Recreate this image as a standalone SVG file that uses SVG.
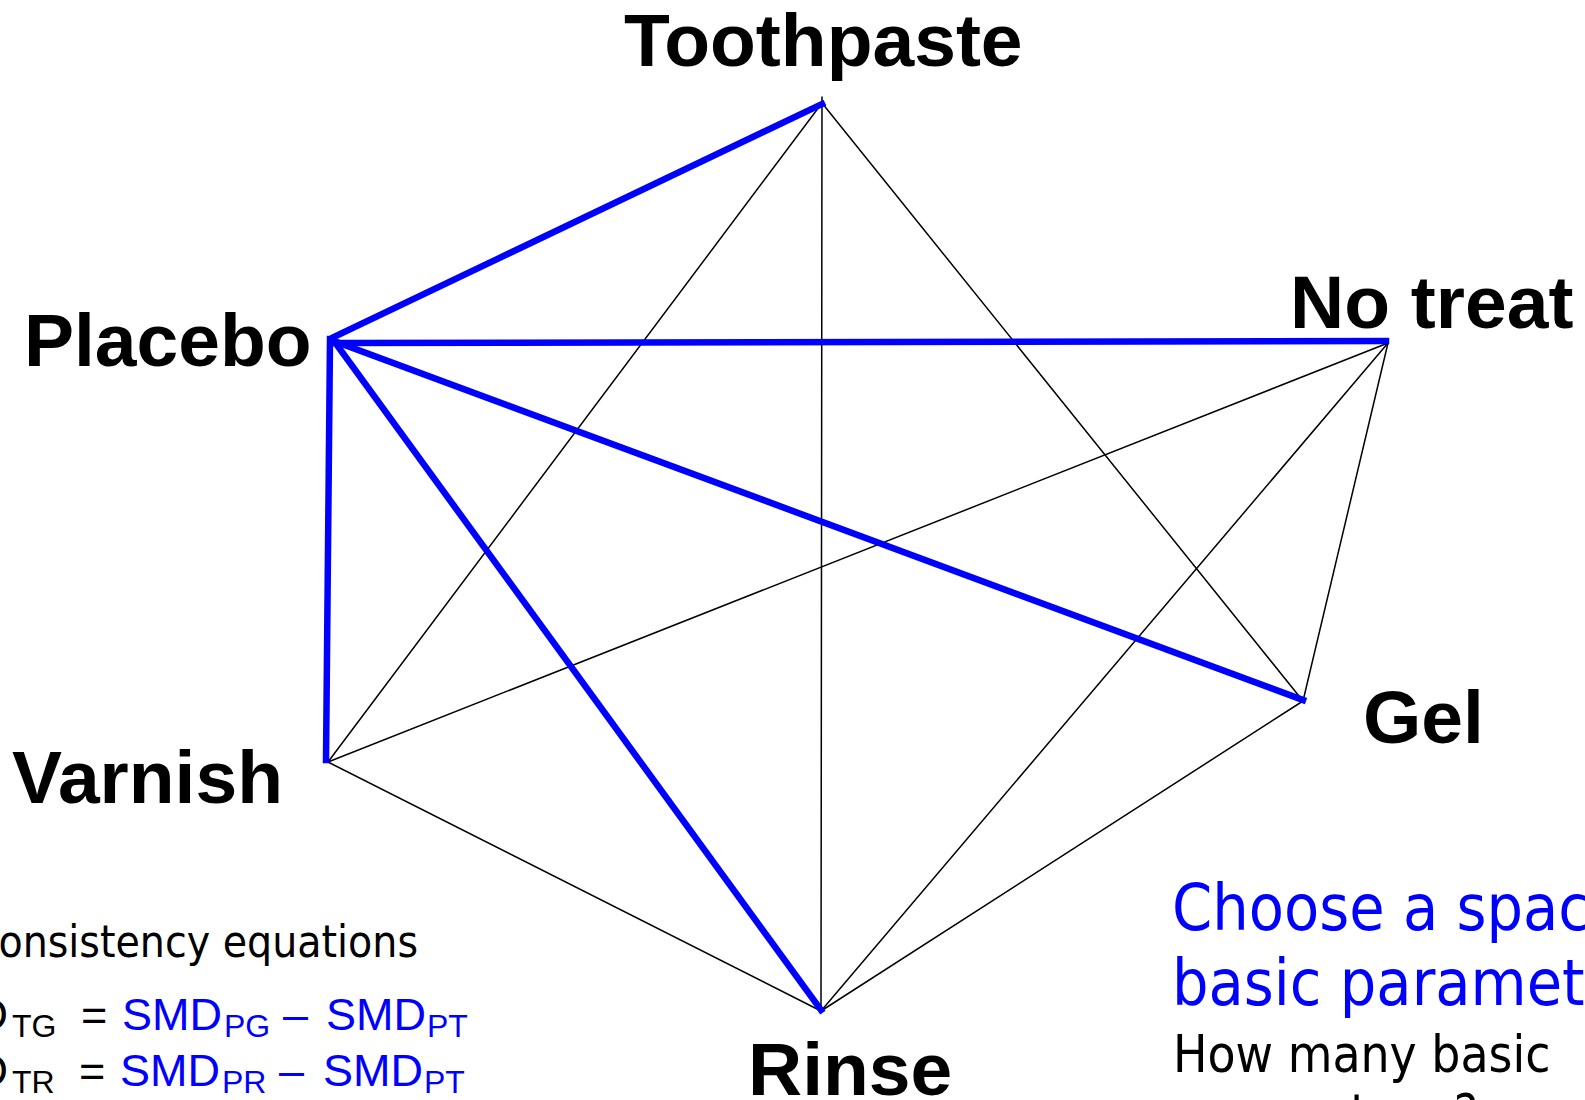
<svg xmlns="http://www.w3.org/2000/svg" width="1585" height="1100" viewBox="0 0 1585 1100">
<style>
.lbl{font-family:"Liberation Sans",Arial,sans-serif;font-weight:bold;font-size:75px;fill:#000}
.thin{stroke:#000;stroke-width:1.5;fill:none;stroke-linecap:round}
.thick{stroke:#0000FF;stroke-width:6.5;fill:none;stroke-linecap:square}
.tah{font-family:"DejaVu Sans Condensed","DejaVu Sans",sans-serif;font-stretch:condensed}
.eq{font-family:"Liberation Sans",Arial,sans-serif;font-size:45px}
.sub{font-size:32px}
.blue{fill:#0000FF}
</style>
<rect width="1585" height="1100" fill="#fff"/>
<g id="connectors">
<line class="thin" x1="822" y1="97" x2="821" y2="1011"/>
<line class="thin" x1="822" y1="103" x2="328" y2="762"/>
<line class="thin" x1="822" y1="103" x2="1303" y2="701"/>
<line class="thin" x1="1388" y1="343" x2="328" y2="762"/>
<line class="thin" x1="1388" y1="343" x2="821" y2="1011"/>
<line class="thin" x1="1388" y1="343" x2="1303" y2="701"/>
<line class="thin" x1="328" y1="762" x2="821" y2="1011"/>
<line class="thin" x1="1303" y1="701" x2="821" y2="1011"/>
<line class="thick" x1="334" y1="337" x2="822" y2="104"/>
<line class="thick" x1="334" y1="343" x2="1386" y2="341"/>
<line class="thick" x1="334" y1="341" x2="1303" y2="700"/>
<line class="thick" x1="330" y1="339" x2="326" y2="760"/>
<line class="thick" x1="334" y1="341" x2="821" y2="1010"/>
</g>
<g id="node-toothpaste"><text class="lbl" x="624" y="66">Toothpaste</text></g>
<g id="node-placebo"><text class="lbl" x="24" y="366">Placebo</text></g>
<g id="node-notreat"><text class="lbl" x="1290" y="328">No treat</text></g>
<g id="node-gel"><text class="lbl" x="1363" y="743">Gel</text></g>
<g id="node-varnish"><text class="lbl" x="12" y="803">Varnish</text></g>
<g id="node-rinse"><text class="lbl" x="748" y="1095">Rinse</text></g>
<g id="consistency">
<text class="tah" x="418" y="957" font-size="44" text-anchor="end">Consistency equations</text>
<text class="eq"><tspan x="-92" y="1030">SMD</tspan><tspan class="sub" x="12" y="1037">TG</tspan><tspan x="81" y="1030">=</tspan><tspan class="blue" x="122" y="1030">SMD</tspan><tspan class="sub blue" x="224" y="1037">PG</tspan><tspan class="blue" x="283" y="1030">–</tspan><tspan class="blue" x="326" y="1030">SMD</tspan><tspan class="sub blue" x="427" y="1037">PT</tspan></text>
<text class="eq"><tspan x="-92" y="1086">SMD</tspan><tspan class="sub" x="12" y="1093">TR</tspan><tspan x="79" y="1086">=</tspan><tspan class="blue" x="120" y="1086">SMD</tspan><tspan class="sub blue" x="222" y="1093">PR</tspan><tspan class="blue" x="279" y="1086">–</tspan><tspan class="blue" x="323" y="1086">SMD</tspan><tspan class="sub blue" x="424" y="1093">PT</tspan></text>
</g>
<g id="question">
<text class="tah blue" x="1172" y="930" font-size="64">Choose a space of</text>
<text class="tah blue" x="1172" y="1005" font-size="64">basic parameters</text>
<text class="tah" x="1173" y="1072" font-size="51">How many basic</text>
<text class="tah" x="1173" y="1131" font-size="51">parameters ?</text>
</g>
</svg>
